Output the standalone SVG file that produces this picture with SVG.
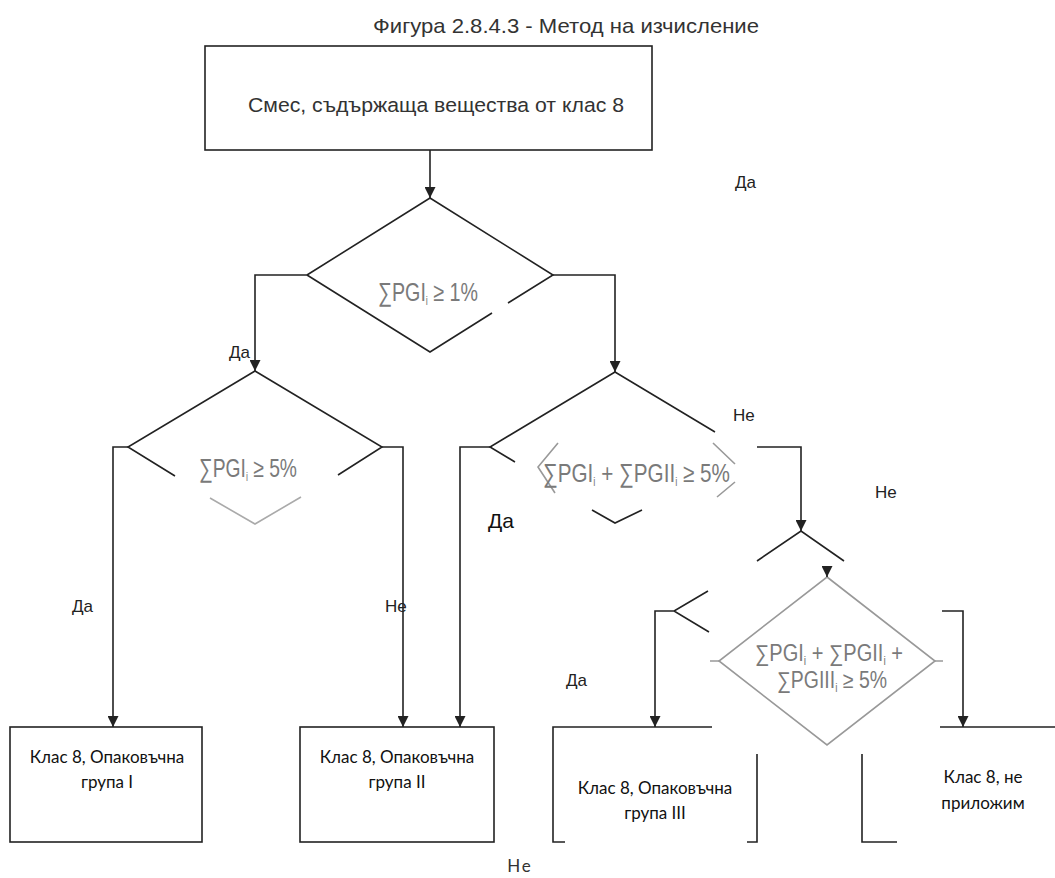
<svg xmlns="http://www.w3.org/2000/svg" width="1055" height="878" viewBox="0 0 1055 878">
<defs>
<marker id="ah" viewBox="0 0 10 10" refX="10" refY="5" markerWidth="12" markerHeight="11" markerUnits="userSpaceOnUse" orient="auto">
<path d="M0,0 L10,5 L0,10 z" fill="#222"/>
</marker>
<style>
.ln{fill:none;stroke:#222;stroke-width:1.6}
.gl{fill:none;stroke:#999;stroke-width:1.6}
.lb{font-family:"Liberation Sans",Arial,sans-serif;font-size:17px;fill:#222}
.bx{font-family:Lato,"Noto Sans",sans-serif;font-size:17px;fill:#111;text-anchor:middle}
.fm{font-family:"Liberation Sans",Arial,sans-serif;font-size:26px;fill:#7a7a7a}
.sb{font-size:12px}
</style>
</defs>
<rect width="1055" height="878" fill="#fff"/>
<text class="lb" x="373" y="33" textLength="386" lengthAdjust="spacingAndGlyphs" style="font-size:21px;fill:#333">Фигура 2.8.4.3 - Метод на изчисление</text>

<g id="start">
<rect x="205" y="46" width="447" height="104" class="ln"/>
<text class="lb" x="248" y="112" textLength="376" lengthAdjust="spacingAndGlyphs" style="font-size:20.5px;fill:#333">Смес, съдържаща вещества от клас 8</text>
</g>

<g id="d1">
<path class="ln" d="M307,275 L430,198 L553,275 L508,303 M492,313 L430,352 L307,275"/>
<text class="fm" x="378" y="301" textLength="100" lengthAdjust="spacingAndGlyphs">∑PGI<tspan class="sb" dy="4">i</tspan><tspan dy="-4"> ≥ 1%</tspan></text>
</g>

<g id="d2">
<path class="ln" d="M175,476 L128,447 L255,371 L382,447 L338,475"/>
<path class="gl" d="M210,498 L255,524 L301,497" style="stroke:#aaa"/>
<text class="fm" x="199" y="477" textLength="98" lengthAdjust="spacingAndGlyphs">∑PGI<tspan class="sb" dy="4">i</tspan><tspan dy="-4"> ≥ 5%</tspan></text>
</g>

<g id="d3">
<path class="ln" d="M515,462 L490,447 L615,372 L715,432"/>
<path class="gl" d="M558,443 L538,467 L555,493 M713,443 L735,464 M735,482 L717,497"/>
<path class="ln" d="M592,510 L615,523 L642,510"/>
<text class="fm" x="543" y="482" textLength="187" lengthAdjust="spacingAndGlyphs">∑PGI<tspan class="sb" dy="4">i</tspan><tspan dy="-4"> + ∑PGII</tspan><tspan class="sb" dy="4">i</tspan><tspan dy="-4"> ≥ 5%</tspan></text>
</g>

<g id="d4">
<path class="gl" d="M827,577 L935,661 L827,745 L719,661 Z"/>
<text class="fm" x="755" y="661" textLength="148" lengthAdjust="spacingAndGlyphs" style="font-size:23px">∑PGI<tspan class="sb" dy="4">i</tspan><tspan dy="-4"> + ∑PGII</tspan><tspan class="sb" dy="4">i</tspan><tspan dy="-4"> +</tspan></text>
<text class="fm" x="777" y="688" textLength="110" lengthAdjust="spacingAndGlyphs" style="font-size:23px">∑PGIII<tspan class="sb" dy="4">i</tspan><tspan dy="-4"> ≥ 5%</tspan></text>
</g>

<g id="b1">
<rect x="10" y="727" width="192" height="115" class="ln"/>
<text class="bx" x="107" y="763">Клас 8, Опаковъчна</text>
<text class="bx" x="107" y="788">група I</text>
</g>

<g id="b2">
<rect x="300" y="727" width="194" height="115" class="ln"/>
<text class="bx" x="397" y="763">Клас 8, Опаковъчна</text>
<text class="bx" x="397" y="788">група II</text>
</g>

<g id="b3">
<path class="ln" d="M712,727 H553 V842 H565 M757,754 V842 H747"/>
<text class="bx" x="655" y="794">Клас 8, Опаковъчна</text>
<text class="bx" x="655" y="819">група III</text>
</g>

<g id="b4">
<path class="ln" d="M940,727 H1055 M862,754 V842 H897"/>
<text class="bx" x="983" y="783">Клас 8, не</text>
<text class="bx" x="983" y="809">приложим</text>
</g>

<g id="connectors">
<path class="ln" d="M430,150 V198" marker-end="url(#ah)"/>
<path class="ln" d="M307,275 H255 V371" marker-end="url(#ah)"/>
<path class="ln" d="M553,275 H615 V372" marker-end="url(#ah)"/>
<path class="ln" d="M128,447 H113 V727" marker-end="url(#ah)"/>
<path class="ln" d="M382,447 H403 V727" marker-end="url(#ah)"/>
<path class="ln" d="M490,447 H460 V727" marker-end="url(#ah)"/>
<path class="ln" d="M757,447 H801 V531" marker-end="url(#ah)"/>
<path class="ln" d="M757,561 L801,531 L844,561"/>
<path class="ln" d="M827,567 V577" marker-end="url(#ah)"/>
<path class="ln" d="M708,591 L674,611 L709,632 M674,611 H655 V727" marker-end="url(#ah)"/>
<path class="ln" d="M942,611 H963 V727" marker-end="url(#ah)"/>
<path class="gl" d="M710,661 H719 M935,661 H943"/>
</g>

<g id="labels">
<text class="lb" x="735" y="188">Да</text>
<text class="lb" x="229" y="358">Да</text>
<text class="lb" x="72" y="612">Да</text>
<text class="lb" x="385" y="612">Не</text>
<text class="lb" x="733" y="421">Не</text>
<text class="lb" x="488" y="528" style="font-size:21px;fill:#111">Да</text>
<text class="lb" x="875" y="498">Не</text>
<text class="lb" x="566" y="686">Да</text>
<text class="bx" x="520" y="872" style="font-size:17px;letter-spacing:2px;fill:#333">Не</text>
</g>
</svg>
